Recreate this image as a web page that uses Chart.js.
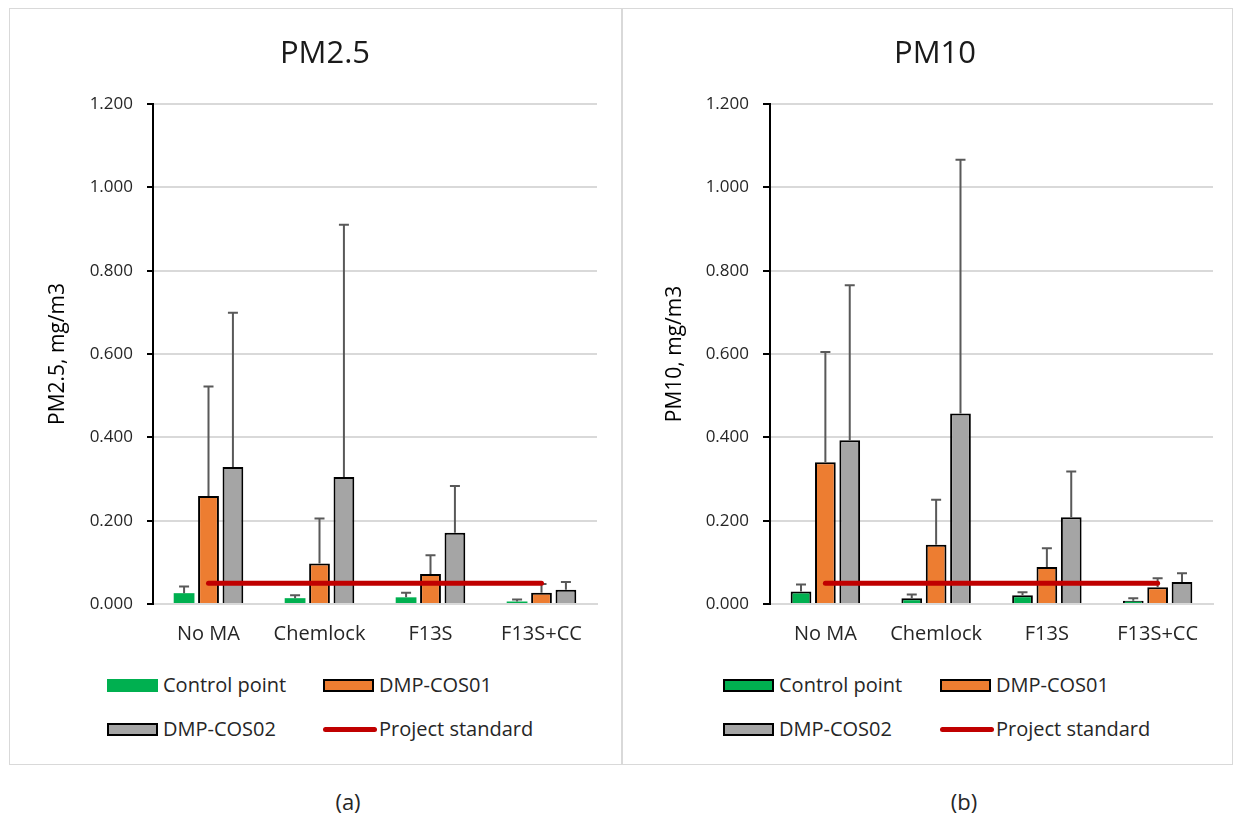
<!DOCTYPE html>
<html>
<head>
<meta charset="utf-8">
<script src="https://cdn.jsdelivr.net/npm/chart.js@4.4.0/dist/chart.umd.min.js"></script>
<style>
  body { margin: 0; background: #fff; font-family: "Open Sans", sans-serif; color: #262626; }
  .panel { position: absolute; top: 8px; height: 757px; border: 1.5px solid #d9d9d9; box-sizing: border-box; }
  canvas { position: absolute; top: 8px; }
  .title { position: absolute; top: 30px; width: 300px; text-align: center; font-size: 31px; line-height: 42px; color: #1a1a1a; }
  .item { position: absolute; white-space: nowrap; line-height: 24px; font-size: 20px; color: #262626; }
  .box { position: absolute; top: 6px; width: 51px; height: 13px; box-sizing: border-box; }
  .line { position: absolute; top: 10px; width: 54px; height: 5px; border-radius: 3px; }
  .cap { position: absolute; top: 786px; width: 60px; text-align: center; font-size: 22px; color: #262626; }
</style>
</head>
<body>
<div class="panel" style="left:9px;width:614px"></div>
<div class="panel" style="left:621px;width:612px"></div>
<canvas id="pm25" width="593" height="646" style="left:29px"></canvas>
<canvas id="pm10" width="593" height="646" style="left:639px"></canvas>
<div class="title" style="left:175px">PM2.5</div>
<div class="title" style="left:785px">PM10</div>
<div id="leg25"></div>
<div id="leg10"></div>
<div class="cap" style="left:318px">(a)</div>
<div class="cap" style="left:934px">(b)</div>
<script>
const categories = ['No MA', 'Chemlock', 'F13S', 'F13S+CC'];
const seriesNames = ['Control point', 'DMP-COS01', 'DMP-COS02', 'Project standard'];
const yTicks = [0, 0.2, 0.4, 0.6, 0.8, 1.0, 1.2];

// PM2.5 means and upper error (sd)
const pm25Control = [0.026, 0.014, 0.016, 0.006];
const pm25ControlErr = [0.016, 0.007, 0.011, 0.005];
const pm25Cos01 = [0.259, 0.097, 0.072, 0.027];
const pm25Cos01Err = [0.263, 0.108, 0.045, 0.021];
const pm25Cos02 = [0.329, 0.305, 0.171, 0.034];
const pm25Cos02Err = [0.370, 0.605, 0.112, 0.019];

// PM10
const pm10Control = [0.030, 0.014, 0.021, 0.008];
const pm10ControlErr = [0.017, 0.009, 0.007, 0.006];
const pm10Cos01 = [0.340, 0.142, 0.089, 0.040];
const pm10Cos01Err = [0.265, 0.108, 0.045, 0.022];
const pm10Cos02 = [0.393, 0.457, 0.208, 0.053];
const pm10Cos02Err = [0.372, 0.609, 0.110, 0.021];

const projectStandard = [0.05, 0.05, 0.05, 0.05];

const GREEN = '#00B050', ORANGE = '#ED7D31', GREY = '#A5A5A5', RED = '#C00000';
const FONT = '"Open Sans", sans-serif';

// error bars drawn right after each bar dataset, so the red line stays on top
const errorBars = {
  id: 'errorBars',
  afterDatasetDraw(chart, args) {
    const ds = chart.data.datasets[args.index];
    if (!ds.errors) return;
    const y = chart.scales.y;
    const ctx = chart.ctx;
    ctx.save();
    ctx.strokeStyle = '#595959';
    ctx.lineWidth = 2;
    args.meta.data.forEach((bar, i) => {
      const top = y.getPixelForValue(ds.data[i] + ds.errors[i]);
      ctx.beginPath();
      ctx.moveTo(bar.x, bar.y);
      ctx.lineTo(bar.x, top);
      ctx.moveTo(bar.x - 5, top);
      ctx.lineTo(bar.x + 5, top);
      ctx.stroke();
    });
    ctx.restore();
  }
};

function makeChart(id, yTitle, ctrl, ctrlErr, c1, c1Err, c2, c2Err, ctrlBorder, yWidth, yTitlePad, tickLen, padRight) {
  const barOpts = { order: 1, categoryPercentage: 0.66, barPercentage: 0.85 };
  return new Chart(document.getElementById(id), {
    type: 'bar',
    data: {
      labels: categories,
      datasets: [
        { ...barOpts, label: seriesNames[0], data: ctrl, errors: ctrlErr, backgroundColor: GREEN,
          borderColor: '#000', borderWidth: ctrlBorder },
        { ...barOpts, label: seriesNames[1], data: c1, errors: c1Err, backgroundColor: ORANGE,
          borderColor: '#000', borderWidth: 2 },
        { ...barOpts, label: seriesNames[2], data: c2, errors: c2Err, backgroundColor: GREY,
          borderColor: '#000', borderWidth: 2 },
        { type: 'line', order: 0, label: seriesNames[3], data: projectStandard, borderColor: RED,
          borderWidth: 5, borderCapStyle: 'round', pointRadius: 0, fill: false }
      ]
    },
    options: {
      responsive: false,
      animation: false,
      layout: { padding: { left: 0, right: padRight, top: 96, bottom: 0 } },
      plugins: {
        legend: { display: false },
        tooltip: { enabled: false }
      },
      scales: {
        x: {
          afterFit: s => { s.height = 50; },
          grid: { display: false, drawTicks: false },
          border: { color: '#d9d9d9', width: 2 },
          ticks: { color: '#262626', padding: 18, font: { family: FONT, size: 20 } }
        },
        y: {
          min: 0, max: 1.2,
          afterFit: s => { s.width = yWidth; },
          afterBuildTicks: s => { s.ticks = yTicks.map(v => ({ value: v })); },
          grid: { color: '#d9d9d9', lineWidth: 2, tickColor: '#000', tickLength: tickLen, tickWidth: 2 },
          border: { color: '#000', width: 2 },
          ticks: { color: '#262626', padding: 14, font: { family: FONT, size: 17 },
                   callback: v => v.toFixed(3) },
          title: { display: true, text: yTitle, color: '#000', padding: { top: yTitlePad, bottom: 4 },
                   font: { family: FONT, size: 21 } }
        }
      }
    },
    plugins: [errorBars]
  });
}

makeChart('pm25', 'PM2.5, mg/m3', pm25Control, pm25ControlErr, pm25Cos01, pm25Cos01Err,
          pm25Cos02, pm25Cos02Err, 0, 124, 16, 6, 25);
makeChart('pm10', 'PM10, mg/m3', pm10Control, pm10ControlErr, pm10Cos01, pm10Cos01Err,
          pm10Cos02, pm10Cos02Err, 2, 131, 23, 7, 19);

function buildLegend(id, x1, x2, ctrlBorder) {
  const el = document.getElementById(id);
  const rows = [673, 717];
  const items = [
    { name: seriesNames[0], color: GREEN, border: ctrlBorder, x: x1, y: rows[0] },
    { name: seriesNames[1], color: ORANGE, border: 2, x: x2, y: rows[0] },
    { name: seriesNames[2], color: GREY, border: 2, x: x1, y: rows[1] },
    { name: seriesNames[3], color: RED, line: true, x: x2, y: rows[1] }
  ];
  items.forEach(it => {
    const d = document.createElement('div');
    d.className = 'item';
    d.style.left = it.x + 'px';
    d.style.top = it.y + 'px';
    const mark = document.createElement('span');
    mark.className = it.line ? 'line' : 'box';
    mark.style.background = it.color;
    if (!it.line && it.border) mark.style.border = it.border + 'px solid #000';
    d.appendChild(mark);
    const t = document.createElement('span');
    t.style.marginLeft = '56px';
    t.textContent = it.name;
    d.appendChild(t);
    el.appendChild(d);
  });
}
buildLegend('leg25', 107, 323, 0);
buildLegend('leg10', 723, 940, 2);
</script>
</body>
</html>
